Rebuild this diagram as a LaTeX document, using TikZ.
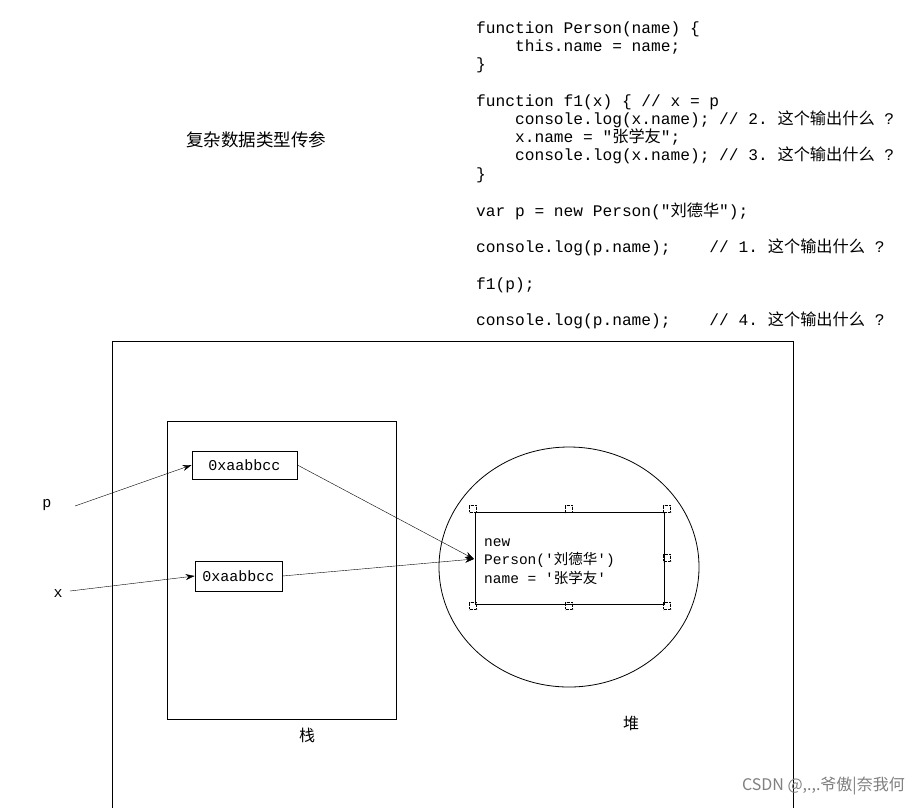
\documentclass[tikz,border=0pt]{standalone}
\usepackage{fontspec}
\setmonofont{Liberation Mono}
\newfontfamily\cjk{Noto Sans CJK SC}
\usetikzlibrary{arrows.meta}
\begin{document}
\begin{tikzpicture}[x=1pt,y=-1pt,
  code/.style={anchor=base west,inner sep=0pt,font=\ttfamily\fontsize{16.2}{18}\selectfont},
  lbl/.style={inner sep=0pt,font=\ttfamily\fontsize{15}{18}\selectfont},
  otx/.style={anchor=base west,inner sep=0pt,font=\ttfamily\fontsize{14.5}{18}\selectfont},
  addr/.style={draw,thick,minimum width=105pt,minimum height=28pt,inner sep=0pt,font=\ttfamily\fontsize{15}{16}\selectfont},
  arr/.style={-{Stealth[length=9pt,width=6pt]}},
  handle/.style={draw,densely dotted,minimum size=7pt,inner sep=0pt}]
\useasboundingbox (0,0) rectangle (920,807);
\fill[white] (0,0) rectangle (920,807);
% code
\node[code] (c1) at (476,33) {function Person(name) \{};
\node[code] (c2) at (476,51) {\ \ \ \ this.name = name;};
\node[code] (c3) at (476,69) {\}};
\node[code] (c4) at (476,106) {function f1(x) \{ // x = p};
\node[code] (c5) at (476,124) {\ \ \ \ console.log(x.name); // 2. {\cjk 这个输出什么} ?};
\node[code] (c6) at (476,142) {\ \ \ \ x.name = "{\cjk 张学友}";};
\node[code] (c7) at (476,160) {\ \ \ \ console.log(x.name); // 3. {\cjk 这个输出什么} ?};
\node[code] (c8) at (476,179) {\}};
\node[code] (c9) at (476,216) {var p = new Person("{\cjk 刘德华}");};
\node[code] (c10) at (476,252) {console.log(p.name);\ \ \ \ // 1. {\cjk 这个输出什么} ?};
\node[code] (c11) at (476,289) {f1(p);};
\node[code] (c12) at (476,325) {console.log(p.name);\ \ \ \ // 4. {\cjk 这个输出什么} ?};
\node[inner sep=0pt,font=\cjk\fontsize{17.5}{20}\selectfont] (title) at (256,140) {复杂数据类型传参};
% frames
\draw[thick] (112,810) -- (112,341) -- (793,341) -- (793,810);
\draw[thick] (167,421) rectangle (396,719);
\node[inner sep=0pt,font=\cjk\fontsize{16}{18}\selectfont] (zhan) at (307,735) {栈};
\draw[thick] (569,567) ellipse (130 and 120);
\node[inner sep=0pt,font=\cjk\fontsize{16}{18}\selectfont] (dui) at (631,723) {堆};
% stack boxes
\node[addr] (a1) at (244.5,465) {0xaabbcc};
\node[addr,minimum width=87pt,minimum height=30pt] (a2) at (238.5,576) {0xaabbcc};
\node[lbl] (p) at (47,505) {p};
\node[lbl] (x) at (58,594) {x};
\coordinate (ps) at (75,506);
\coordinate (xs) at (70,591);
\draw[arr] (ps) -- (a1.west);
\draw[arr] (xs) -- (a2.west);
% heap object
\node[draw,thick,minimum width=189pt,minimum height=92pt,inner sep=0pt] (obj) at (569.5,558) {};
\foreach \px/\py in {473/509,569/509,667/509,667/558,473/606,569/606,667/606}
  \node[handle] at (\px,\py) {};
\node[otx] (o1) at (484,546) {new};
\node[otx] (o2) at (484,564) {Person('{\cjk 刘德华}')};
\node[otx] (o3) at (484,583) {name = '{\cjk 张学友}'};
\coordinate (hit) at (474,559);
\draw[arr] (a1.east) -- (hit);
\draw[arr] (a2.east) -- (hit);
\node[anchor=east,inner sep=0pt,text=gray,font=\cjk\fontsize{16}{18}\selectfont] (wm) at (905,786) {CSDN @,.,.爷傲|奈我何};
\end{tikzpicture}
\end{document}
